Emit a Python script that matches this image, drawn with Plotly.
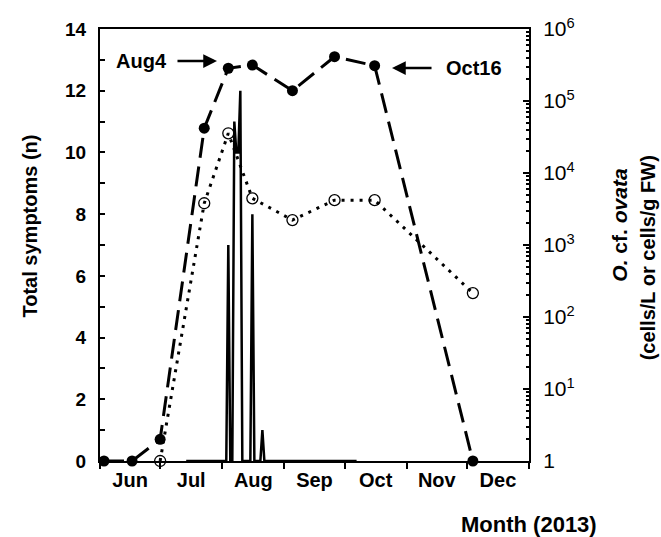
import plotly.graph_objects as go

# ---- data ----
sym_dates = ["2013-07-14", "2013-08-03", "2013-08-04", "2013-08-05", "2013-08-06",
             "2013-08-07", "2013-08-08", "2013-08-09", "2013-08-10", "2013-08-11",
             "2013-08-15", "2013-08-16", "2013-08-17", "2013-08-20", "2013-08-21",
             "2013-08-22", "2013-10-07"]
sym_values = [0, 0, 7, 0, 0, 11, 10, 10, 12, 0, 0, 8, 0, 0, 1, 0, 0]

fw_dates = ["2013-06-03", "2013-06-17", "2013-07-01", "2013-07-23", "2013-08-04",
            "2013-08-16", "2013-09-05", "2013-09-26", "2013-10-16", "2013-12-04"]
fw_cells = [1, 1, 2, 42000, 285000, 316000, 139000, 412000, 309000, 1]

sw_dates = ["2013-07-01", "2013-07-23", "2013-08-04", "2013-08-16", "2013-09-05",
            "2013-09-26", "2013-10-16", "2013-12-04"]
sw_cells = [1, 3800, 35600, 4450, 2220, 4200, 4200, 215]

log_tickvals = [1, 10, 100, 1000, 10000, 100000, 1000000]
log_ticktext = ["1", "10<sup>1</sup>", "10<sup>2</sup>", "10<sup>3</sup>",
                "10<sup>4</sup>", "10<sup>5</sup>", "10<sup>6</sup>"]
log_minor = [m * 10 ** k for k in range(6) for m in range(2, 10)]

FONT = "Liberation Sans, Arial, sans-serif"

fig = go.Figure()
fig.add_trace(go.Scatter(x=sym_dates, y=sym_values, mode="lines",
                         line=dict(color="black", width=2.5), yaxis="y",
                         showlegend=False, cliponaxis=False))
fig.add_trace(go.Scatter(x=sw_dates, y=sw_cells, mode="lines+markers", yaxis="y2",
                         line=dict(color="black", width=3, dash="3px,6px"),
                         marker=dict(symbol="circle-open", size=11, color="black",
                                     line=dict(width=1.3, color="black")),
                         showlegend=False, cliponaxis=False))
fig.add_trace(go.Scatter(x=fw_dates, y=fw_cells, mode="lines+markers", yaxis="y2",
                         line=dict(color="black", width=3, dash="20px,9px"),
                         marker=dict(symbol="circle", size=11, color="black"),
                         showlegend=False, cliponaxis=False))

tickfont = dict(family=FONT, size=19, color="black", weight="bold")

fig.update_layout(
    width=661, height=537,
    margin=dict(l=100, r=132, t=29, b=76),
    paper_bgcolor="white", plot_bgcolor="white",
    font=dict(family=FONT, color="black"),
    xaxis=dict(type="date", range=["2013-06-01", "2014-01-01"],
               dtick="M1", tick0="2013-06-01", tickformat="%b",
               ticklabelmode="period", ticks="outside", ticklen=6, tickwidth=2,
               tickcolor="black", showline=True, linewidth=2, linecolor="black",
               mirror=True, showgrid=False, zeroline=False,
               ticklabelstandoff=-6,
               tickfont=dict(family=FONT, size=20, color="black", weight="bold")),
    yaxis=dict(range=[0, 14], dtick=2, ticks="inside", ticklen=5, tickwidth=2,
               tickcolor="black", showline=True, linewidth=2, linecolor="black",
               showgrid=False, zeroline=False, tickfont=tickfont,
               ticklabelstandoff=8,
               minor=dict(dtick=1, ticks="inside", ticklen=5, tickwidth=2,
                          tickcolor="black", showgrid=False)),
    yaxis2=dict(type="log", range=[0, 6], overlaying="y", side="right",
                tickmode="array", tickvals=log_tickvals, ticktext=log_ticktext,
                ticks="inside", ticklen=6, tickwidth=2, tickcolor="black",
                showline=True, linewidth=2, linecolor="black",
                showgrid=False, zeroline=False,
                tickfont=dict(family=FONT, size=21, color="black"),
                ticklabelstandoff=8,
                minor=dict(tickmode="array", tickvals=log_minor, ticks="inside",
                           ticklen=3, tickwidth=1.5, tickcolor="black",
                           showgrid=False)),
)

ann = [
    dict(text="<b>Total symptoms (n)</b>", x=-0.163, y=0.543, textangle=-90,
         font=dict(size=20)),
    dict(text="<b><i>O.</i> cf. <i>ovata</i></b>", x=1.212, y=0.547, textangle=-90,
         font=dict(size=21)),
    dict(text="<b>(cells/L or cells/g FW)</b>", x=1.277, y=0.471, textangle=-90,
         font=dict(size=20)),
    dict(text="<b>Month (2013)</b>", x=1.001, y=-0.148, font=dict(size=22)),
    dict(text="<b>Aug4</b>", x=0.0956, y=0.9259, font=dict(size=20)),
    dict(text="<b>Oct16</b>", x=0.872, y=0.9097, font=dict(size=20)),
]
for a in ann:
    a.update(xref="paper", yref="paper", showarrow=False, xanchor="center",
             yanchor="middle")
    a["font"].update(family=FONT, color="black")
    fig.add_annotation(**a)

# arrows
fig.add_annotation(xref="paper", yref="paper", x=0.2727, y=0.9259, ax=-41, ay=0,
                   text="", showarrow=True, arrowhead=2, arrowsize=1.1,
                   arrowwidth=2.5, arrowcolor="black")
fig.add_annotation(xref="paper", yref="paper", x=0.6807, y=0.9097, ax=41, ay=0,
                   text="", showarrow=True, arrowhead=2, arrowsize=1.1,
                   arrowwidth=2.5, arrowcolor="black")

fig.write_html("out.html", config={"displayModeBar": False},
               post_script="document.body.style.margin='0';"
                           "document.body.style.overflow='hidden';")
